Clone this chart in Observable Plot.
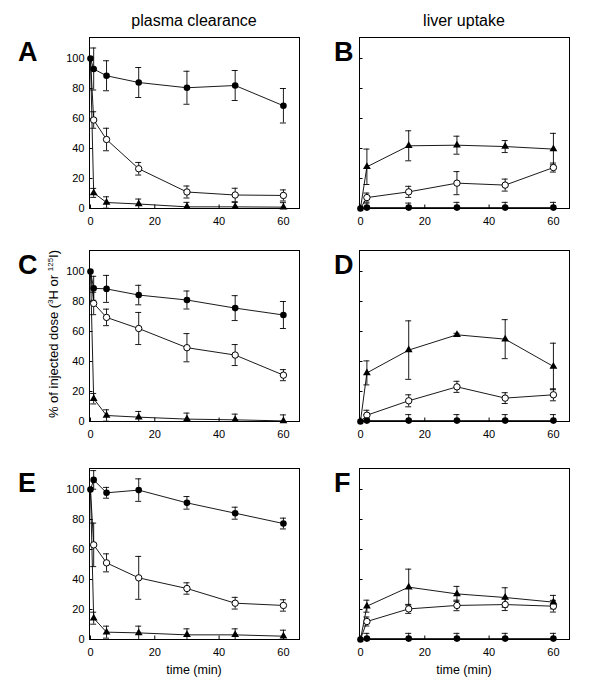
<!DOCTYPE html>
<html><head><meta charset="utf-8">
<script src="https://cdn.jsdelivr.net/npm/d3@7"></script>
<script src="https://cdn.jsdelivr.net/npm/@observablehq/plot@0.6"></script>
<style>
body{margin:0;background:#fff;font-family:"Liberation Sans",Arial,sans-serif;color:#000;}
#wrap{position:relative;width:593px;height:689px;overflow:hidden;}
.panel{position:absolute;}
.letter{position:absolute;font-weight:bold;font-size:27px;line-height:1;}
.coltitle{position:absolute;font-size:16px;line-height:1;text-align:center;width:210px;white-space:nowrap;}
.xtitle{position:absolute;font-size:12.5px;line-height:1;text-align:center;width:210px;white-space:nowrap;}
.ytitle{position:absolute;font-size:13px;line-height:1;white-space:nowrap;transform:translate(-50%,-50%) rotate(-90deg);}
.ytitle sup{font-size:8px;vertical-align:5px;}
</style></head>
<body><div id="wrap"></div>
<script>
// ---- data ----
const plasmaTimes = [0, 1, 5, 15, 30, 45, 60];
const liverTimes  = [0, 2, 15, 30, 45, 60];
const yTicks = [0, 20, 40, 60, 80, 100];
const xTicks = [0, 20, 40, 60];
const columnTitles = ["plasma clearance", "liver uptake"];
const panelLetters = ["A", "B", "C", "D", "E", "F"];
const xTitle = "time (min)";

// Panel A (plasma)
const aFilled = [100, 93, 88.5, 84, 80.5, 82, 68.5];
const aFilledErr = [0, 14, 10, 10, 11, 10, 11.5];
const aOpen = [100, 59, 46, 26.5, 11, 9, 8.7];
const aOpenErr = [0, 5.5, 7.5, 4.2, 4, 4.5, 3.7];
const aTri = [100, 10.4, 4, 3, 1.1, 1.1, 0.9];
const aTriErr = [0, 3, 3.8, 3.3, 3, 3, 3];
// Panel B (liver)
const bFilled = [0, 0.6, 0.6, 0.6, 0.6, 0.6];
const bFilledErr = [0, 3, 3, 3.5, 3.5, 3.5];
const bOpen = [0, 7.3, 11.1, 16.9, 15.6, 27.3];
const bOpenErr = [0, 3, 3.7, 7.7, 4, 3];
const bTri = [0, 27.8, 41.8, 42.2, 41.3, 39.6];
const bTriErr = [0, 11.8, 10, 6, 4, 10.5];
// Panel C (plasma)
const cFilled = [100, 88.8, 88.4, 84.3, 81, 75.6, 71];
const cFilledErr = [0, 8, 9, 6.5, 6, 8.3, 9];
const cOpen = [100, 78.7, 69.4, 62, 49.2, 44.3, 30.9];
const cOpenErr = [0, 7.5, 5.5, 10.7, 9.4, 7, 3.7];
const cTri = [100, 15.2, 4, 2.9, 1.6, 1.1, 0.4];
const cTriErr = [0, 3.5, 3.8, 3.8, 4, 3.8, 4];
// Panel D (liver)
const dFilled = [0, 0.6, 0.6, 0.6, 0.6, 0.6];
const dFilledErr = [0, 4, 4, 4, 4, 4];
const dOpen = [0, 4.2, 13.8, 23.1, 15.6, 17.8];
const dOpenErr = [0, 3.3, 4, 3.7, 3.6, 4];
const dTri = [0, 32.4, 47.6, 57.8, 54.9, 36.7];
const dTriErr = [0, 8, 19.5, 1, 13, 15.5];
// Panel E (plasma)
const eFilled = [100, 106.4, 97.8, 99.6, 91.1, 84.2, 77.3];
const eFilledErr = [0, 6.2, 3.6, 7.5, 4.2, 4, 3.6];
const eOpen = [100, 63.1, 51.1, 41.1, 34, 24.2, 22.7];
const eOpenErr = [0, 14.5, 6, 14.3, 3.8, 3.9, 3.8];
const eTri = [100, 14.2, 4.9, 4.4, 3.1, 3.1, 2.2];
const eTriErr = [0, 4, 4, 4.5, 4, 4, 4];
// Panel F (liver)
const fFilled = [0, 0.6, 0.6, 0.6, 0.6, 0.6];
const fFilledErr = [0, 3.5, 3.5, 3.5, 3.5, 3.5];
const fOpen = [0, 12, 20.4, 22.7, 23.3, 22.2];
const fOpenErr = [0, 3, 3, 3.5, 4, 3.9];
const fTri = [0, 22.2, 34.9, 30.4, 28, 24.9];
const fTriErr = [0, 4, 12, 5, 6.5, 4.5];

// ---- layout ----
const frameW = 210, frameH = 171;
const colX = [89, 359];
const rowY = [37, 250, 468];
const wrap = document.getElementById("wrap");

function makePanel(times, filled, filledErr, open, openErr, tri, triErr, showYLabels) {
  const series = [
    {key: "filled", values: filled, errs: filledErr},
    {key: "open", values: open, errs: openErr},
    {key: "tri", values: tri, errs: triErr}
  ];
  const rows = [];
  for (const s of series) times.forEach((t, i) => rows.push({t, v: s.values[i], e: s.errs[i], key: s.key}));
  const errRows = rows.filter(d => d.e > 0);
  const ml = showYLabels ? 30 : 6, mr = 3, mt = 4, mb = 24;
  const marks = [
    Plot.frame({stroke: "black", strokeWidth: 1}),
    Plot.axisY({ticks: yTicks, tickSize: -3.5, tickPadding: 8.5, label: null, tickFormat: showYLabels ? (d => d) : (() => ""), fontSize: 11}),
    Plot.axisX({ticks: xTicks, tickSize: -3.5, tickPadding: 12, label: null, fontSize: 11}),
  ];
  for (const s of series) {
    marks.push(Plot.line(rows.filter(d => d.key === s.key), {x: "t", y: "v", stroke: "black", strokeWidth: 0.9}));
  }
  marks.push(
    Plot.ruleX(errRows, {x: "t", y1: d => d.v - d.e, y2: d => d.v + d.e, stroke: "black", strokeWidth: 0.9}),
    Plot.ruleY(errRows, {x1: "t", x2: "t", y: d => d.v + d.e, insetLeft: -3, insetRight: -3, stroke: "black", strokeWidth: 0.9}),
    Plot.ruleY(errRows, {x1: "t", x2: "t", y: d => d.v - d.e, insetLeft: -3, insetRight: -3, stroke: "black", strokeWidth: 0.9}),
    Plot.dot(rows.filter(d => d.key === "open" && d.t > 0), {x: "t", y: "v", r: 3.2, fill: "white", stroke: "black", strokeWidth: 1}),
    Plot.dot(rows.filter(d => d.key === "tri" && d.t > 0), {x: "t", y: "v", r: 2.9, symbol: "triangle", fill: "black", stroke: "none"}),
    Plot.dot(rows.filter(d => d.key === "filled"), {x: "t", y: "v", r: 3.3, fill: "black", stroke: "none"})
  );
  const svg = Plot.plot({
    width: frameW + ml + mr,
    height: frameH + mt + mb,
    marginLeft: ml, marginRight: mr, marginTop: mt, marginBottom: mb,
    x: {domain: [-0.3, 65], label: null},
    y: {domain: [0, 114], clamp: true, label: null},
    style: {fontFamily: "'Liberation Sans', Arial, sans-serif", fontSize: "11px", color: "black", background: "transparent", overflow: "visible"},
    marks
  });
  return {svg, ml, mt};
}

const panels = [
  [plasmaTimes, aFilled, aFilledErr, aOpen, aOpenErr, aTri, aTriErr],
  [liverTimes, bFilled, bFilledErr, bOpen, bOpenErr, bTri, bTriErr],
  [plasmaTimes, cFilled, cFilledErr, cOpen, cOpenErr, cTri, cTriErr],
  [liverTimes, dFilled, dFilledErr, dOpen, dOpenErr, dTri, dTriErr],
  [plasmaTimes, eFilled, eFilledErr, eOpen, eOpenErr, eTri, eTriErr],
  [liverTimes, fFilled, fFilledErr, fOpen, fOpenErr, fTri, fTriErr]
];

panels.forEach((p, i) => {
  const col = i % 2, row = Math.floor(i / 2);
  const {svg, ml, mt} = makePanel(...p, col === 0);
  const div = document.createElement("div");
  div.className = "panel";
  div.style.left = (colX[col] - ml) + "px";
  div.style.top = (rowY[row] - mt) + "px";
  div.appendChild(svg);
  wrap.appendChild(div);
  const L = document.createElement("div");
  L.className = "letter";
  L.textContent = panelLetters[i];
  L.style.left = (col === 0 ? 18 : 334) + "px";
  L.style.top = (rowY[row] + 1.5) + "px";
  wrap.appendChild(L);
});

columnTitles.forEach((t, c) => {
  const d = document.createElement("div");
  d.className = "coltitle";
  d.textContent = t;
  d.style.left = colX[c] + "px";
  d.style.top = "13px";
  wrap.appendChild(d);
});
[0, 1].forEach(c => {
  const d = document.createElement("div");
  d.className = "xtitle";
  d.textContent = xTitle;
  d.style.left = colX[c] + "px";
  d.style.top = "664px";
  wrap.appendChild(d);
});
const yt = document.createElement("div");
yt.className = "ytitle";
yt.innerHTML = "% of injected dose (<sup>3</sup>H or <sup>125</sup>I)";
yt.style.left = "53px";
yt.style.top = "334px";
wrap.appendChild(yt);
</script>
</body></html>
